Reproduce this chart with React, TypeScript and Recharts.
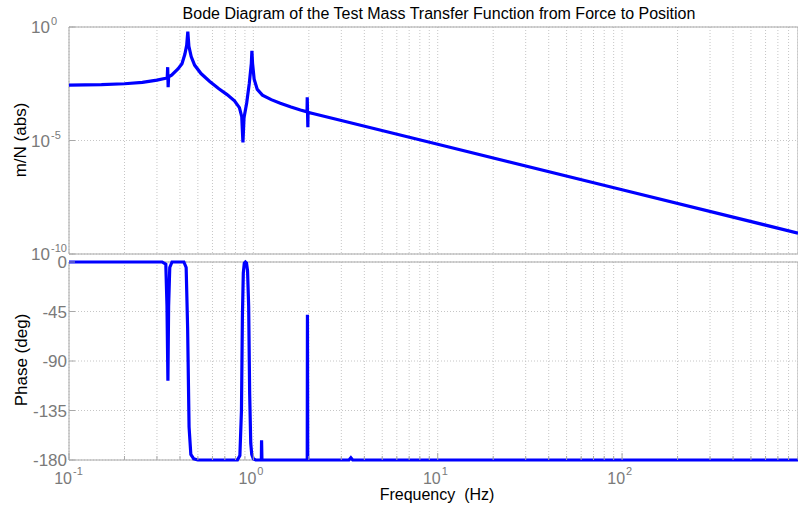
import React from "react";
import { LineChart, Line, XAxis, YAxis, CartesianGrid, ReferenceArea } from "recharts";

// magnitude (Hz, m/N)
const magFreq = [
  0.1, 0.15, 0.2, 0.25, 0.3, 0.335, 0.341, 0.343, 0.345, 0.347,
  0.36, 0.39, 0.41, 0.425, 0.435, 0.441, 0.447, 0.46, 0.48, 0.52,
  0.58, 0.65, 0.72, 0.79, 0.84, 0.865, 0.878, 0.89, 0.92, 0.95,
  0.975, 0.982, 0.99, 1.01, 1.05, 1.12, 1.25, 1.4, 1.6, 1.8,
  1.955, 1.96, 1.975, 1.98, 2.1, 3, 10, 100, 900,
];
const magValue = [
  2.75e-3, 2.88e-3, 3.16e-3, 3.63e-3, 4.57e-3, 5.5e-3, 5.75e-3, 1.7e-2, 2.24e-3, 6.3e-3,
  7.6e-3, 1.41e-2, 2.4e-2, 6.3e-2, 0.158, 0.62, 0.141, 5.0e-2, 2.1e-2, 8.9e-3,
  4.0e-3, 1.9e-3, 1.05e-3, 5.6e-4, 2.8e-4, 1.12e-4, 8.3e-6, 1.0e-4, 4.5e-4, 3.2e-3,
  2.5e-2, 8.9e-2, 2.5e-2, 5.0e-3, 1.78e-3, 1.0e-3, 6.3e-4, 4.4e-4, 3.0e-4, 2.2e-4,
  1.82e-4, 8.1e-4, 3.8e-5, 1.74e-4, 1.55e-4, 7.6e-5, 6.8e-6, 6.8e-8, 8.3e-10,
];

// phase (Hz, deg)
const phaseFreq = [
  0.1, 0.32, 0.335, 0.34, 0.344, 0.347, 0.352, 0.362, 0.42, 0.432,
  0.44, 0.448, 0.458, 0.475, 0.5, 0.82, 0.845, 0.862, 0.872, 0.882,
  0.893, 0.905, 0.918, 0.93, 0.943, 0.955, 0.968, 0.98, 1.0, 1.03,
  1.105, 1.108, 1.113, 1.96, 1.965, 1.972, 3.3, 3.38, 3.46, 900,
];
const phaseValue = [
  0, 0, -2, -40, -108, -40, -5, 0, 0, -5,
  -60, -150, -175, -179, -180, -180, -176, -135, -50, -10,
  -1, 0, -1, -8, -40, -120, -165, -175, -179, -180,
  -180, -162, -180, -180, -48, -180, -180, -178, -180, -180,
];

const freqTicks = [
  0.1, 0.2, 0.3, 0.4, 0.5, 0.6, 0.7, 0.8, 0.9,
  1, 2, 3, 4, 5, 6, 7, 8, 9,
  10, 20, 30, 40, 50, 60, 70, 80, 90,
  100, 200, 300, 400, 500, 600, 700, 800, 900,
];
const decadeTicks = [0.1, 1, 10, 100];
const decadeExp = ["-1", "0", "1", "2"];
const magTicks = [1e-10, 1e-5, 1];
const magExp = ["-10", "-5", "0"];
const phaseTicks = [-180, -135, -90, -45, 0];

const magData = magFreq.map((f, i) => ({ f, mag: magValue[i] }));
const phaseData = phaseFreq.map((f, i) => ({ f, phase: phaseValue[i] }));

const FONT = '"Liberation Sans", Arial, sans-serif';
const TICK_TEXT = "#7a7a7a";
const FRAME = "#a8a8a8";
const GRID = "#c6c6c6";
const BLUE = "#0000ff";

const FreqTick = (props: any) => {
  const { x, y, payload, down, showLabel } = props;
  const idx = decadeTicks.indexOf(payload.value);
  const len = idx >= 0 ? 7 : 4;
  const y2 = down ? y + len : y - len;
  return (
    <g>
      <line x1={x} x2={x} y1={y} y2={y2} stroke={FRAME} />
      {showLabel && idx >= 0 && (
        <g fontFamily={FONT} fill={TICK_TEXT}>
          <text x={x + 3} y={y + 24} textAnchor="end" fontSize={16}>10</text>
          <text x={x + 4} y={y + 15} textAnchor="start" fontSize={11}>{decadeExp[idx]}</text>
        </g>
      )}
    </g>
  );
};

const MagTick = (props: any) => {
  const { x, y, payload } = props;
  const idx = magTicks.indexOf(payload.value);
  return (
    <g fontFamily={FONT} fill={TICK_TEXT}>
      <line x1={x} x2={x + 6} y1={y} y2={y} stroke={FRAME} />
      <text x={x - 19} y={y + 6} textAnchor="end" fontSize={17}>10</text>
      <text x={x - 18} y={y - 2} textAnchor="start" fontSize={11}>{magExp[idx]}</text>
    </g>
  );
};

const PhaseTick = (props: any) => {
  const { x, y, payload } = props;
  return (
    <g fontFamily={FONT} fill={TICK_TEXT}>
      <line x1={x} x2={x + 6} y1={y} y2={y} stroke={FRAME} />
      <text x={x - 2} y={y + 6} textAnchor="end" fontSize={17}>{payload.value}</text>
    </g>
  );
};

const xAxisCommon = {
  dataKey: "f",
  type: "number" as const,
  scale: "log" as const,
  domain: [0.1, 900],
  allowDataOverflow: true,
  ticks: freqTicks,
  interval: 0,
  axisLine: false,
  tickLine: false,
  tickSize: 0,
  tickMargin: 0,
};

export default function App() {
  return (
    <div style={{ position: "absolute", left: 0, top: 0, width: 798, height: 510, background: "#fff", overflow: "hidden" }}>
      <div style={{ position: "absolute", left: 0, top: 0 }}>
        <LineChart width={798} height={510} data={phaseData} margin={{ top: 262, right: 0, bottom: 0, left: 0 }}>
          <CartesianGrid strokeDasharray="1 2" stroke={GRID} />
          <ReferenceArea x1={0.1} x2={900} y1={-180} y2={0} fill="none" stroke={FRAME} ifOverflow="visible" />
          <XAxis {...xAxisCommon} height={50} tick={<FreqTick showLabel />} />
          <XAxis {...xAxisCommon} xAxisId="top" orientation="top" height={0} tick={<FreqTick down />} />
          <YAxis type="number" domain={[-180, 0]} ticks={phaseTicks} interval={0} width={69} axisLine={false} tickLine={false} tickSize={0} tickMargin={0} tick={<PhaseTick />} />
          <Line type="linear" dataKey="phase" stroke={BLUE} strokeWidth={3.2} dot={false} isAnimationActive={false} />
        </LineChart>
      </div>
      <div style={{ position: "absolute", left: 0, top: 0 }}>
        <LineChart width={798} height={270} data={magData} margin={{ top: 27, right: 0, bottom: 16, left: 0 }}>
          <CartesianGrid strokeDasharray="1 2" stroke={GRID} />
          <ReferenceArea x1={0.1} x2={900} y1={1e-10} y2={1} fill="none" stroke={FRAME} ifOverflow="visible" />
          <XAxis {...xAxisCommon} height={0} tick={<FreqTick />} />
          <XAxis {...xAxisCommon} xAxisId="top" orientation="top" height={0} tick={<FreqTick down />} />
          <YAxis type="number" scale="log" domain={[1e-10, 1]} allowDataOverflow ticks={magTicks} interval={0} width={69} axisLine={false} tickLine={false} tickSize={0} tickMargin={0} tick={<MagTick />} />
          <Line type="linear" dataKey="mag" stroke={BLUE} strokeWidth={3.2} dot={false} isAnimationActive={false} />
        </LineChart>
      </div>
      <svg width={798} height={510} style={{ position: "absolute", left: 0, top: 0, pointerEvents: "none" }} fontFamily={FONT}>
        <text x={439} y={19} textAnchor="middle" fontSize={16} fill="#000">
          Bode Diagram of the Test Mass Transfer Function from Force to Position
        </text>
        <text x={26} y={140} textAnchor="middle" fontSize={17} fill="#000" transform="rotate(-90 26 140)">
          m/N (abs)
        </text>
        <text x={27} y={360} textAnchor="middle" fontSize={17} fill="#000" transform="rotate(-90 27 360)">
          Phase (deg)
        </text>
        <text x={437} y={500} textAnchor="middle" fontSize={16} fill="#000" style={{ whiteSpace: "pre" }}>
          Frequency  (Hz)
        </text>
      </svg>
    </div>
  );
}
